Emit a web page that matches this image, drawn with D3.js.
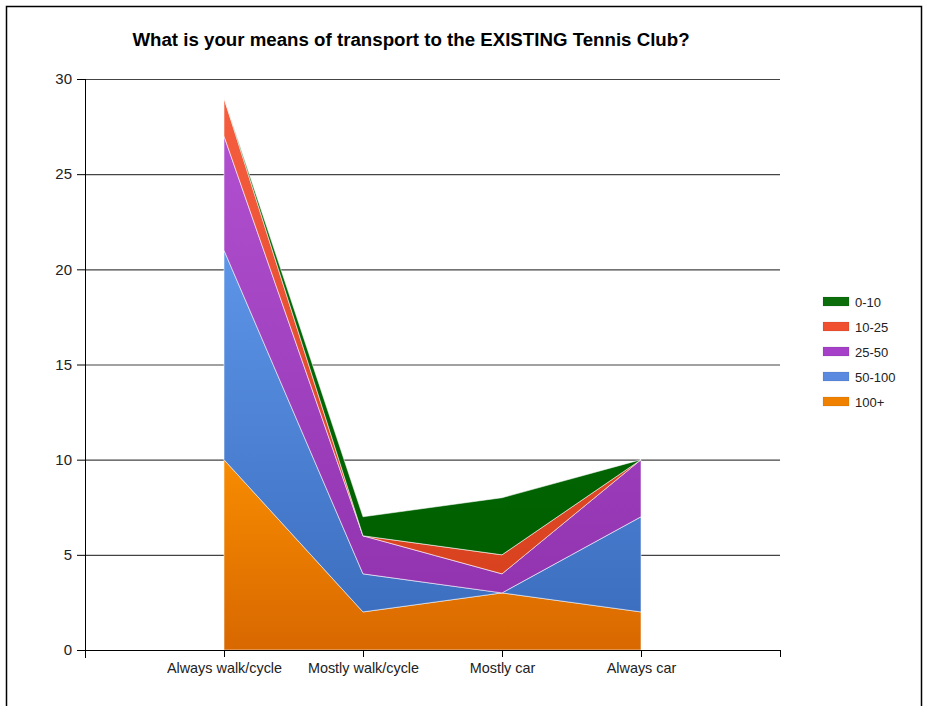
<!DOCTYPE html>
<html><head><meta charset="utf-8">
<script src="https://cdn.jsdelivr.net/npm/d3@7"></script>
<style>body{margin:0;background:#fff}svg{display:block}text{font-family:"Liberation Sans",Arial,sans-serif}</style>
</head><body>
<svg id="c" width="929" height="706"></svg>
<script>
const categories = ["Always walk/cycle","Mostly walk/cycle","Mostly car","Always car"];
const seriesNames = ["100+","50-100","25-50","10-25","0-10"];
const v100plus = [10,2,3,2];
const v50to100 = [11,2,0,5];
const v25to50 = [6,2,1,3];
const v10to25 = [2,0,1,0];
const v0to10 = [0,1,3,0];
const yTicks = [0,5,10,15,20,25,30];
const colorsTop = {"100+":"#f88c00","50-100":"#5d95e8","25-50":"#b050d0","10-25":"#f65e40","0-10":"#0a7010"};
const colorsBot = {"100+":"#d86800","50-100":"#3d6fc0","25-50":"#9234b0","10-25":"#d9421f","0-10":"#006000"};
const legendColors = {"0-10":"#0b6e0b","10-25":"#f05030","25-50":"#a640c8","50-100":"#5a8ae0","100+":"#f08000"};

const seriesVals = {"100+":v100plus,"50-100":v50to100,"25-50":v25to50,"10-25":v10to25,"0-10":v0to10};
const table = categories.map((c,i)=>{const o={cat:c}; seriesNames.forEach(s=>o[s]=seriesVals[s][i]); return o;});
const stack = d3.stack().keys(seriesNames)(table);

const svg = d3.select("#c");
const L=85,R=780,T=79,B=650;
const x = d3.scalePoint().domain(categories).range([L,R]).padding(1);
const y = d3.scaleLinear().domain([0,30]).range([B,T]);
const FF = '"Liberation Sans",Arial,sans-serif';

// frame
svg.append("rect").attr("x",6.5).attr("y",6.5).attr("width",915).attr("height",710).attr("fill","none").attr("stroke","#000").attr("stroke-width",1.5);

svg.append("text").attr("x",411).attr("y",46).attr("text-anchor","middle").attr("font-size",18.7).attr("font-weight","bold").attr("fill","#000")
  .text("What is your means of transport to the EXISTING Tennis Club?");

// gridlines
svg.append("g").selectAll("line").data(yTicks.filter(d=>d>0)).join("line")
  .attr("x1",L).attr("x2",R).attr("y1",d=>y(d)+0.5).attr("y2",d=>y(d)+0.5).attr("stroke","#444").attr("stroke-width",1.2);

const defs = svg.append("defs");
seriesNames.forEach((s,i)=>{
  const g = defs.append("linearGradient").attr("id","g"+i).attr("x1",0).attr("y1",0).attr("x2",0).attr("y2",1);
  g.append("stop").attr("offset",0).attr("stop-color",colorsTop[s]);
  g.append("stop").attr("offset",1).attr("stop-color",colorsBot[s]);
});

const area = d3.area().x(d=>x(d.data.cat)).y0(d=>y(d[0])).y1(d=>y(d[1]));
svg.append("g").selectAll("path").data(stack).join("path")
  .attr("d",area).attr("fill",(d,i)=>`url(#g${i})`)
  .attr("stroke","rgba(255,255,255,0.55)").attr("stroke-width",1).attr("stroke-linejoin","round");

// axes
const yAxis = d3.axisLeft(y).tickValues(yTicks).tickSize(8).tickPadding(5);
const gy = svg.append("g").attr("transform",`translate(${L},0)`).call(yAxis).attr("font-size",15).attr("font-family",FF);
gy.select(".domain").attr("d",`M0.5,${T}V${B+8}`).attr("stroke","#000");
gy.selectAll(".tick line").attr("stroke","#000");
gy.selectAll("text").attr("fill","#222");

const xAxis = d3.axisBottom(x).tickSize(7).tickPadding(6);
const gx = svg.append("g").attr("transform",`translate(0,${B})`).call(xAxis).attr("font-size",14.4).attr("font-family",FF);
gx.select(".domain").attr("d",`M${L},0.5H${R}`).attr("stroke","#000");
gx.selectAll(".tick line").attr("stroke","#000");
gx.selectAll("text").attr("fill","#222");
[L,R].forEach(px=>gx.append("line").attr("x1",px+0.5).attr("x2",px+0.5).attr("y1",0).attr("y2",7).attr("stroke","#000"));

// legend
const legendOrder = ["0-10","10-25","25-50","50-100","100+"];
const lg = svg.append("g").attr("transform","translate(823,297)");
legendOrder.forEach((s,i)=>{
  const row = lg.append("g").attr("transform",`translate(0,${i*25})`);
  row.append("rect").attr("width",26).attr("height",9).attr("fill",legendColors[s]).attr("stroke","rgba(0,0,0,0.08)");
  row.append("text").attr("x",32).attr("y",10).attr("font-size",13).attr("fill","#222").text(s);
});
</script>
</body></html>
